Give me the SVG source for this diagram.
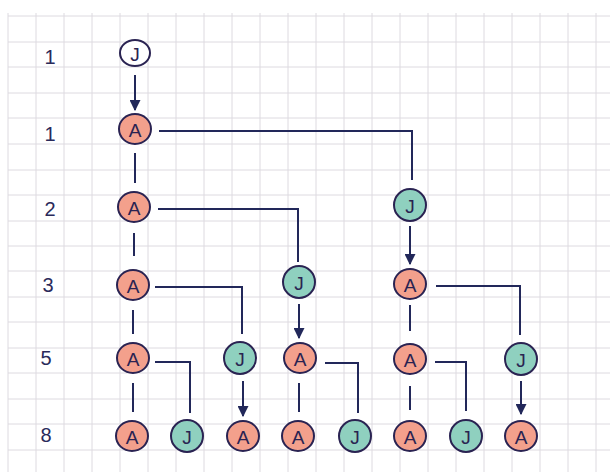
<svg xmlns="http://www.w3.org/2000/svg" width="610" height="472" viewBox="0 0 610 472">
<style>
.grid line{stroke:#dddae0;stroke-width:1}
.lbl{font-family:"Liberation Sans",Arial,sans-serif;font-size:20px;fill:#2a2a5a;text-anchor:middle}
.a ellipse{fill:#f3a08c;stroke:#2a2352;stroke-width:2}
.j ellipse{fill:#8fd0bf;stroke:#2a2352;stroke-width:2}
.j0 ellipse{fill:#ffffff;stroke:#2a2352;stroke-width:2}
.n text{font-family:"Liberation Sans",Arial,sans-serif;font-size:19px;fill:#2a2352;text-anchor:middle;dominant-baseline:central}
.c path{fill:none;stroke:#22285a;stroke-width:2}
.c .ar{marker-end:url(#ah)}
</style>
<defs>
<marker id="ah" viewBox="0 0 10 10" refX="9" refY="5" markerWidth="5.5" markerHeight="5.5" orient="auto" markerUnits="strokeWidth">
<path d="M0,0 L10,5 L0,10 z" fill="#22285a"/>
</marker>
</defs>
<rect width="610" height="472" fill="#ffffff"/>
<g class="grid">
<line x1="8" y1="13" x2="8" y2="472"/><line x1="36" y1="13" x2="36" y2="472"/><line x1="64" y1="13" x2="64" y2="472"/><line x1="92" y1="13" x2="92" y2="472"/><line x1="120" y1="13" x2="120" y2="472"/><line x1="148" y1="13" x2="148" y2="472"/><line x1="176" y1="13" x2="176" y2="472"/><line x1="204" y1="13" x2="204" y2="472"/><line x1="232" y1="13" x2="232" y2="472"/><line x1="260" y1="13" x2="260" y2="472"/><line x1="288" y1="13" x2="288" y2="472"/><line x1="316" y1="13" x2="316" y2="472"/><line x1="344" y1="13" x2="344" y2="472"/><line x1="372" y1="13" x2="372" y2="472"/><line x1="400" y1="13" x2="400" y2="472"/><line x1="428" y1="13" x2="428" y2="472"/><line x1="456" y1="13" x2="456" y2="472"/><line x1="484" y1="13" x2="484" y2="472"/><line x1="512" y1="13" x2="512" y2="472"/><line x1="540" y1="13" x2="540" y2="472"/><line x1="568" y1="13" x2="568" y2="472"/><line x1="596" y1="13" x2="596" y2="472"/>
<line x1="8" y1="16" x2="610" y2="16"/><line x1="8" y1="42" x2="610" y2="42"/><line x1="8" y1="67" x2="610" y2="67"/><line x1="8" y1="93" x2="610" y2="93"/><line x1="8" y1="118" x2="610" y2="118"/><line x1="8" y1="144" x2="610" y2="144"/><line x1="8" y1="170" x2="610" y2="170"/><line x1="8" y1="195" x2="610" y2="195"/><line x1="8" y1="221" x2="610" y2="221"/><line x1="8" y1="246" x2="610" y2="246"/><line x1="8" y1="271" x2="610" y2="271"/><line x1="8" y1="297" x2="610" y2="297"/><line x1="8" y1="322" x2="610" y2="322"/><line x1="8" y1="348" x2="610" y2="348"/><line x1="8" y1="373" x2="610" y2="373"/><line x1="8" y1="399" x2="610" y2="399"/><line x1="8" y1="424" x2="610" y2="424"/><line x1="8" y1="450" x2="610" y2="450"/>
</g>
<g id="labels">
<text class="lbl" x="50" y="64">1</text>
<text class="lbl" x="50" y="141">1</text>
<text class="lbl" x="50" y="216">2</text>
<text class="lbl" x="48" y="292">3</text>
<text class="lbl" x="46" y="365">5</text>
<text class="lbl" x="46" y="442">8</text>
</g>
<g id="connectors" class="c">
<path class="ar" d="M135,75 V110"/>
<path d="M159,131 H412 V180"/>
<path d="M135,153 V183"/>
<path d="M158,209 H298 V262"/>
<path d="M134,233 V256"/>
<path class="ar" d="M410,226 V264"/>
<path d="M155,287 H242 V334"/>
<path d="M436,286 H520 V335"/>
<path d="M133,310 V334"/>
<path class="ar" d="M299,304 V338"/>
<path d="M410,305 V331"/>
<path d="M155,362 H190 V413"/>
<path class="ar" d="M243,381 V416"/>
<path d="M325,363 H358 V413"/>
<path d="M435,362 H466 V411"/>
<path class="ar" d="M521,381 V414"/>
<path d="M133,383 V412"/>
<path d="M299,383 V412"/>
<path d="M410,386 V410"/>
</g>
<g id="n0" class="n j0"><ellipse cx="135" cy="53" rx="15" ry="13"/><text x="135" y="54">J</text></g>
<g id="n1" class="n a"><ellipse cx="135" cy="129" rx="16" ry="15"/><text x="135" y="130">A</text></g>
<g id="n2" class="n a"><ellipse cx="134" cy="207" rx="16" ry="15"/><text x="134" y="208">A</text></g>
<g id="n3" class="n j"><ellipse cx="410" cy="205" rx="16" ry="16"/><text x="410" y="206">J</text></g>
<g id="n4" class="n a"><ellipse cx="133" cy="285" rx="16" ry="15"/><text x="133" y="286">A</text></g>
<g id="n5" class="n j"><ellipse cx="299" cy="282" rx="16" ry="16"/><text x="299" y="283">J</text></g>
<g id="n6" class="n a"><ellipse cx="410" cy="284" rx="16" ry="15"/><text x="410" y="285">A</text></g>
<g id="n7" class="n a"><ellipse cx="133" cy="358" rx="16" ry="15"/><text x="133" y="359">A</text></g>
<g id="n8" class="n j"><ellipse cx="240" cy="358" rx="16" ry="16"/><text x="240" y="359">J</text></g>
<g id="n9" class="n a"><ellipse cx="300" cy="358" rx="16" ry="15"/><text x="300" y="359">A</text></g>
<g id="n10" class="n a"><ellipse cx="410" cy="359" rx="16" ry="15"/><text x="410" y="360">A</text></g>
<g id="n11" class="n j"><ellipse cx="521" cy="359" rx="16" ry="16"/><text x="521" y="360">J</text></g>
<g id="n12" class="n a"><ellipse cx="132" cy="436" rx="16" ry="15"/><text x="132" y="437">A</text></g>
<g id="n13" class="n j"><ellipse cx="187" cy="436" rx="16" ry="16"/><text x="187" y="437">J</text></g>
<g id="n14" class="n a"><ellipse cx="243" cy="436" rx="16" ry="15"/><text x="243" y="437">A</text></g>
<g id="n15" class="n a"><ellipse cx="298" cy="436" rx="16" ry="15"/><text x="298" y="437">A</text></g>
<g id="n16" class="n j"><ellipse cx="355" cy="436" rx="16" ry="16"/><text x="355" y="437">J</text></g>
<g id="n17" class="n a"><ellipse cx="410" cy="436" rx="16" ry="15"/><text x="410" y="437">A</text></g>
<g id="n18" class="n j"><ellipse cx="466" cy="436" rx="16" ry="16"/><text x="466" y="437">J</text></g>
<g id="n19" class="n a"><ellipse cx="521" cy="436" rx="16" ry="15"/><text x="521" y="437">A</text></g>
</svg>
